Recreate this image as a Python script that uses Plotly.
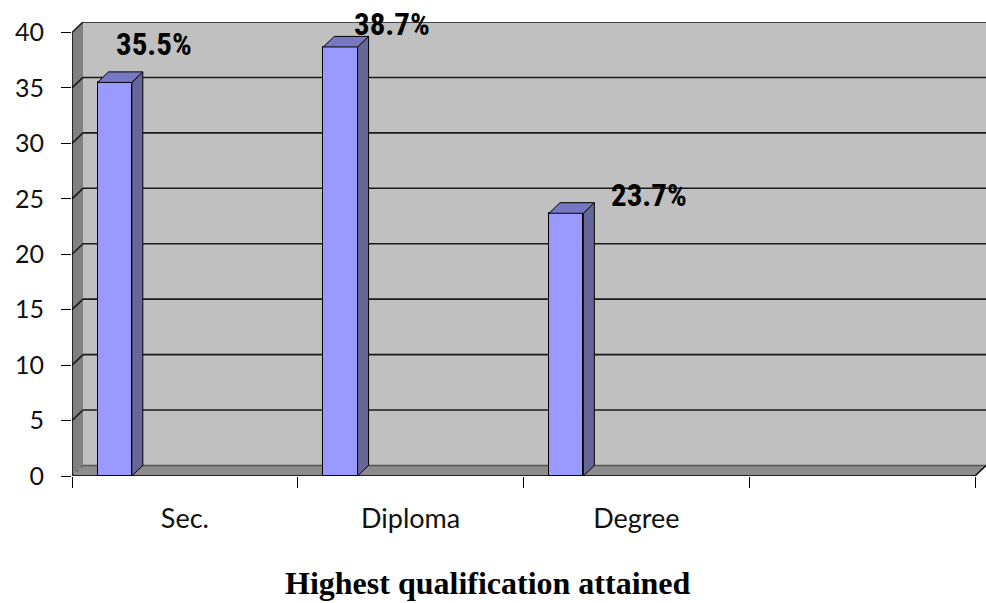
import plotly.graph_objects as go

# ---- data ----
categories = ["Sec.", "Diploma", "Degree"]
percent_values = [35.5, 38.7, 23.7]
value_labels = ["35.5%", "38.7%", "23.7%"]
y_ticks = [0, 5, 10, 15, 20, 25, 30, 35, 40]

# ---- 3D look (depth expressed in axis units) ----
DX = 0.0487          # horizontal depth, category units
DY = 0.95            # vertical depth, value units
N_SLOTS = 4          # one empty slot on the right
BAR_OFFSET = -0.387  # bar front face left edge relative to slot centre
BAR_WIDTH = 0.152

FRONT = "#9999FF"
SIDE = "#666699"
TOP = "#7777C4"
WALL = "#C0C0C0"
SIDE_WALL = "#808080"
FLOOR = "#8C8C8C"
GRID = "#1a1a1a"

# label shifts (pixels) for the value annotations
label_xshift = [39, 52, 83]
label_yshift = [38, 22, 18]

x_pos = list(range(len(categories)))
x_min = -0.5
x_max = N_SLOTS - 0.5
y_top = y_ticks[-1]

fig = go.Figure()

# front faces of the bars
fig.add_trace(go.Bar(
    x=x_pos, y=percent_values,
    offset=BAR_OFFSET, width=BAR_WIDTH,
    marker=dict(color=FRONT, line=dict(color="black", width=1)),
    hoverinfo="skip", showlegend=False,
))

# side and top faces
for xi, v in zip(x_pos, percent_values):
    xl = xi + BAR_OFFSET
    xr = xl + BAR_WIDTH
    fig.add_trace(go.Scatter(
        x=[xr, xr + DX, xr + DX, xr, xr],
        y=[0, DY, v + DY, v, 0],
        fill="toself", fillcolor=SIDE, mode="lines",
        line=dict(color="black", width=1),
        hoverinfo="skip", showlegend=False,
    ))
    fig.add_trace(go.Scatter(
        x=[xl, xr, xr + DX, xl + DX, xl],
        y=[v, v, v + DY, v + DY, v],
        fill="toself", fillcolor=TOP, mode="lines",
        line=dict(color="black", width=1),
        hoverinfo="skip", showlegend=False,
    ))

shapes = []
# back wall
shapes.append(dict(type="rect", layer="below",
                   x0=x_min + DX, x1=x_max + DX, y0=DY, y1=y_top + DY,
                   fillcolor=WALL, line=dict(width=0)))
# left side wall
shapes.append(dict(type="path", layer="below",
                   path=f"M {x_min},0 L {x_min},{y_top} L {x_min + DX},{y_top + DY} "
                        f"L {x_min + DX},{DY} Z",
                   fillcolor=SIDE_WALL, line=dict(width=0)))
# floor
shapes.append(dict(type="path", layer="below",
                   path=f"M {x_min},0 L {x_max},0 L {x_max + DX},{DY} L {x_min + DX},{DY} Z",
                   fillcolor=FLOOR, line=dict(width=0)))
# gridlines on the back wall and the side wall
for v in y_ticks:
    shapes.append(dict(type="line", layer="below",
                       x0=x_min + DX, x1=x_max + DX, y0=v + DY, y1=v + DY,
                       line=dict(color=GRID if v > 0 else "#555555", width=1.6)))
    if v > 0:
        shapes.append(dict(type="line", layer="below",
                           x0=x_min, x1=x_min + DX, y0=v, y1=v + DY,
                           line=dict(color=GRID, width=1.6)))
# front axis lines
shapes.append(dict(type="line", layer="below", x0=x_min, x1=x_min, y0=0, y1=y_top,
                   line=dict(color="black", width=1.4)))
shapes.append(dict(type="line", layer="below", x0=x_min, x1=x_max, y0=0, y1=0,
                   line=dict(color="black", width=1.6)))
shapes.append(dict(type="line", layer="below", x0=x_max, x1=x_max + DX, y0=0, y1=DY,
                   line=dict(color="black", width=1.4)))
shapes.append(dict(type="line", layer="below", x0=x_min, x1=x_min + DX, y0=0, y1=DY,
                   line=dict(color="#333333", width=1, dash="dot")))

LABEL_FONT = ("Noto Sans ExtraCondensed, Noto Sans Condensed, Roboto Condensed, "
              "DejaVu Sans Condensed, sans-serif")

annotations = []
for xi, v, txt, dx, dy in zip(x_pos, percent_values, value_labels, label_xshift, label_yshift):
    annotations.append(dict(
        x=xi + BAR_OFFSET + BAR_WIDTH / 2, y=v, text=txt,
        xref="x", yref="y", showarrow=False,
        xshift=dx, yshift=dy, xanchor="center", yanchor="middle",
        font=dict(family=LABEL_FONT, size=31, color="black", weight="bold"),
    ))
annotations.append(dict(
    x=0.455, y=-0.235, xref="paper", yref="paper", xanchor="center", yanchor="middle",
    showarrow=False, text="<b>Highest qualification attained</b>",
    font=dict(family="Liberation Serif, Times New Roman, serif", size=32, color="black"),
))

fig.update_layout(
    width=986, height=603,
    margin=dict(l=72, r=0, t=22, b=127),
    paper_bgcolor="white", plot_bgcolor="white",
    shapes=shapes, annotations=annotations,
    bargap=0,
    xaxis=dict(
        range=[x_min, x_max + DX],
        tickvals=x_pos, ticktext=categories, ticks="",
        showgrid=False, zeroline=False, showline=False,
        ticklabelstandoff=24,
        tickfont=dict(family="Lato, Open Sans, sans-serif", size=27, color="#111111"),
        minor=dict(tickvals=[x_min + k for k in range(N_SLOTS + 1)], ticks="outside",
                   ticklen=11, tickwidth=1, tickcolor="black", showgrid=False),
    ),
    yaxis=dict(
        range=[0, y_top + DY],
        tickvals=y_ticks, ticks="outside", ticklen=10, tickwidth=1, tickcolor="black",
        showgrid=False, zeroline=False, showline=False,
        ticklabelstandoff=12,
        tickfont=dict(family="Lato, Open Sans, sans-serif", size=25, color="#111111"),
    ),
)

fig.write_html("out.html")
